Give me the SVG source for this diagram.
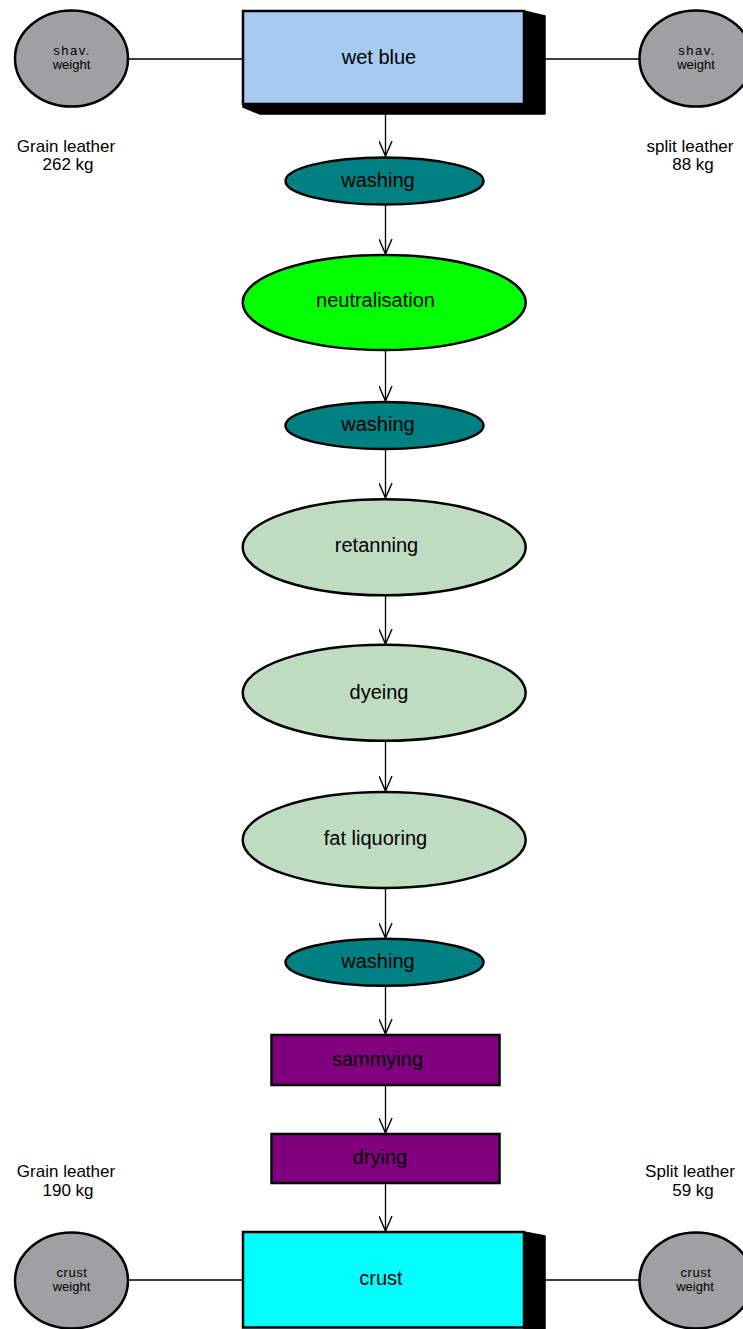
<svg xmlns="http://www.w3.org/2000/svg" width="743" height="1329" viewBox="0 0 743 1329">
<style>
text{font-family:"Liberation Sans",Arial,sans-serif;fill:#000}
.n{font-size:20px;text-anchor:middle}
.s{font-size:13px;text-anchor:middle}
.l{font-size:17px;text-anchor:middle}
.sh{letter-spacing:1.5px}
.bd{stroke:#000;stroke-width:2.5}
.c{stroke:#000;stroke-width:1.3;fill:none}
.gray{fill:#a0a0a4}
.teal{fill:#008080}
.lg{fill:#c0dcc0}
.pur{fill:#800080}
</style>
<defs>
<marker id="ah" viewBox="0 0 16 14" refX="15" refY="7" markerWidth="16" markerHeight="14" markerUnits="userSpaceOnUse" orient="auto">
<polyline points="0,0.5 15,7 0,13.5" fill="none" stroke="#000" stroke-width="1.4"/>
</marker>
</defs>
<rect width="743" height="1329" fill="#fff"/>
<g id="connectors">
<line class="c" x1="128" y1="59" x2="243" y2="59"/>
<line class="c" x1="545" y1="59" x2="639" y2="59"/>
<line class="c" x1="128" y1="1280" x2="243" y2="1280"/>
<line class="c" x1="545" y1="1280" x2="639" y2="1280"/>
<line class="c" x1="385.5" y1="114" x2="385.5" y2="156" marker-end="url(#ah)"/>
<line class="c" x1="385.5" y1="204" x2="385.5" y2="254" marker-end="url(#ah)"/>
<line class="c" x1="385.5" y1="350" x2="385.5" y2="401" marker-end="url(#ah)"/>
<line class="c" x1="385.5" y1="449" x2="385.5" y2="498" marker-end="url(#ah)"/>
<line class="c" x1="385.5" y1="596" x2="385.5" y2="644" marker-end="url(#ah)"/>
<line class="c" x1="385.5" y1="741" x2="385.5" y2="791" marker-end="url(#ah)"/>
<line class="c" x1="385.5" y1="888" x2="385.5" y2="938" marker-end="url(#ah)"/>
<line class="c" x1="385.5" y1="986" x2="385.5" y2="1034" marker-end="url(#ah)"/>
<line class="c" x1="385.5" y1="1085" x2="385.5" y2="1133" marker-end="url(#ah)"/>
<line class="c" x1="385.5" y1="1183" x2="385.5" y2="1231" marker-end="url(#ah)"/>
</g>
<g id="wetblue">
<polygon points="524,11 545,16 545,114 260,114 243,107 243,104 524,104" fill="#000" stroke="#000" stroke-width="1.5" stroke-linejoin="round"/>
<rect class="bd" x="243" y="11" width="281" height="93" fill="#a6caf0"/>
<text class="n" x="379" y="64">wet blue</text>
</g>
<g id="shav-left">
<ellipse class="bd gray" cx="71.5" cy="58.5" rx="56.5" ry="48"/>
<text class="s sh" x="72" y="55">shav.</text>
<text class="s" x="71.5" y="68.5">weight</text>
</g>
<g id="shav-right">
<ellipse class="bd gray" cx="696" cy="58.5" rx="56.5" ry="48"/>
<text class="s sh" x="697" y="55">shav.</text>
<text class="s" x="696" y="68.5">weight</text>
</g>
<g id="label-grain-top">
<text class="l" x="66" y="152">Grain leather</text>
<text class="l" x="68" y="170">262 kg</text>
</g>
<g id="label-split-top">
<text class="l" x="690" y="152">split leather</text>
<text class="l" x="693" y="170">88 kg</text>
</g>
<g id="washing1">
<ellipse class="bd teal" cx="384.5" cy="181" rx="99" ry="23.5"/>
<text class="n" x="378" y="187">washing</text>
</g>
<g id="neutralisation">
<ellipse class="bd" cx="384.2" cy="302.5" rx="141.5" ry="47.5" fill="#00ff00"/>
<text class="n" x="375.5" y="307">neutralisation</text>
</g>
<g id="washing2">
<ellipse class="bd teal" cx="384.5" cy="425.5" rx="99" ry="23.5"/>
<text class="n" x="378" y="431">washing</text>
</g>
<g id="retanning">
<ellipse class="bd lg" cx="384.2" cy="547.3" rx="141.5" ry="48"/>
<text class="n" x="376.5" y="552">retanning</text>
</g>
<g id="dyeing">
<ellipse class="bd lg" cx="384.2" cy="692.8" rx="141.5" ry="48"/>
<text class="n" x="379" y="699">dyeing</text>
</g>
<g id="fatliquoring">
<ellipse class="bd lg" cx="384.2" cy="840" rx="141.5" ry="48"/>
<text class="n" x="375.5" y="845">fat liquoring</text>
</g>
<g id="washing3">
<ellipse class="bd teal" cx="384.5" cy="962.3" rx="99" ry="23.5"/>
<text class="n" x="378" y="968">washing</text>
</g>
<g id="sammying">
<rect class="bd pur" x="271.5" y="1035" width="228" height="50"/>
<text class="n" x="377.5" y="1066">sammying</text>
</g>
<g id="drying">
<rect class="bd pur" x="271.5" y="1134" width="228" height="49"/>
<text class="n" x="380" y="1164">drying</text>
</g>
<g id="crust">
<polygon points="524,1232 545,1236 545,1340 524,1340" fill="#000" stroke="#000" stroke-width="1.5" stroke-linejoin="round"/>
<rect class="bd" x="243" y="1232" width="281" height="95.5" fill="#00ffff"/>
<text class="n" x="381" y="1285">crust</text>
</g>
<g id="label-grain-bottom">
<text class="l" x="66" y="1177">Grain leather</text>
<text class="l" x="68" y="1196">190 kg</text>
</g>
<g id="label-split-bottom">
<text class="l" x="690" y="1177">Split leather</text>
<text class="l" x="693" y="1196">59 kg</text>
</g>
<g id="crust-left">
<ellipse class="bd gray" cx="71.5" cy="1280.5" rx="56.5" ry="48"/>
<text class="s" x="72" y="1277" letter-spacing="0.6">crust</text>
<text class="s" x="71.5" y="1290.5">weight</text>
</g>
<g id="crust-right">
<ellipse class="bd gray" cx="696" cy="1280.5" rx="56.5" ry="48"/>
<text class="s" x="696" y="1277" letter-spacing="0.6">crust</text>
<text class="s" x="695" y="1290.5">weight</text>
</g>
</svg>
